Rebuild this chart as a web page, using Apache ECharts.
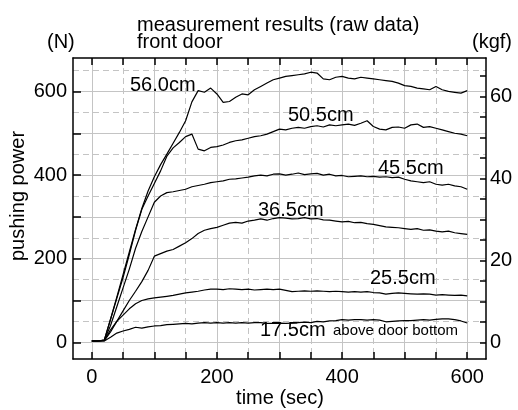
<!DOCTYPE html>
<html lang="en">
<head>
    <meta charset="UTF-8">
    <title>measurement results</title>
    <style>
        html, body { margin: 0; padding: 0; background: #fff; }
        #main { width: 518px; height: 410px; }
    </style>
</head>
<body>
<div id="main"></div>
<script src="https://cdn.jsdelivr.net/npm/echarts@6/dist/echarts.min.js"></script>
<script>
    // time (sec)
    var timeSec = [0, 10, 20, 30, 40, 50, 60, 70, 80, 90,
        100, 110, 120, 130, 140, 150, 160, 170, 180, 190,
        200, 210, 220, 230, 240, 250, 260, 270, 280, 290,
        300, 310, 320, 330, 340, 350, 360, 370, 380, 390,
        400, 410, 420, 430, 440, 450, 460, 470, 480, 490,
        500, 510, 520, 530, 540, 550, 560, 570, 580, 590, 600];

    // pushing power (N) per height above door bottom
    var force175 = [3, 3, 3, 12, 22, 27, 31, 36, 34, 37,
        39, 40, 42, 43, 44, 45, 44, 46, 47, 46,
        47, 46, 47, 46, 47, 46, 47, 47, 45, 45,
        46, 45, 46, 47, 48, 47, 50, 49, 51, 52,
        54, 53, 54, 54, 53, 54, 53, 49, 50, 51,
        52, 52, 53, 54, 53, 55, 56, 56, 54, 51, 46];
    var force255 = [3, 3, 4, 30, 50, 65, 80, 92, 100, 104,
        106, 108, 110, 112, 115, 118, 120, 122, 125, 127,
        127, 126, 128, 127, 126, 127, 125, 126, 127, 126,
        127, 124, 121, 122, 123, 122, 123, 122, 121, 122,
        121, 120, 121, 120, 121, 119, 118, 115, 117, 118,
        117, 116, 115, 116, 115, 113, 114, 113, 112, 113, 111];
    var force365 = [3, 3, 4, 25, 50, 75, 100, 122, 145, 172,
        206, 212, 218, 222, 230, 238, 248, 260, 268, 272,
        275, 280, 285, 287, 285, 290, 292, 295, 292, 296,
        298, 297, 295, 296, 298, 295, 296, 293, 292, 290,
        288, 289, 286, 287, 284, 282, 279, 276, 275, 274,
        272, 270, 272, 268, 269, 266, 264, 266, 262, 260, 258];
    var force455 = [3, 3, 5, 40, 85, 130, 175, 225, 265, 300,
        335, 350, 358, 360, 363, 366, 372, 375, 378, 382,
        384, 386, 390, 391, 393, 395, 398, 400, 398, 402,
        403, 400, 402, 405, 401, 403, 404, 400, 402, 398,
        399, 396, 397, 398, 396, 397, 395, 396, 394, 395,
        390, 386, 384, 382, 384, 378, 376, 378, 374, 372, 366];
    var force505 = [3, 3, 5, 55, 105, 155, 210, 268, 318, 350,
        380, 410, 445, 465, 478, 492, 498, 462, 458, 466,
        468, 472, 478, 482, 484, 488, 492, 494, 498, 504,
        510, 508, 512, 514, 512, 516, 518, 515, 520, 518,
        520, 522, 519, 524, 530, 516, 510, 508, 514, 515,
        512, 520, 522, 514, 516, 512, 508, 504, 500, 498, 494];
    var force560 = [3, 3, 5, 55, 108, 162, 216, 270, 320, 362,
        396, 425, 450, 476, 502, 530, 575, 602, 598, 608,
        594, 574, 576, 586, 594, 592, 604, 612, 620, 628,
        632, 636, 638, 640, 642, 646, 644, 630, 628, 634,
        636, 632, 630, 634, 632, 630, 628, 626, 624, 620,
        614, 612, 608, 606, 604, 612, 604, 600, 598, 596, 602];

    // ticks
    var xTicks = [0, 50, 100, 150, 200, 250, 300, 350, 400, 450, 500, 550, 600];
    var xLabels = [0, 200, 400, 600];
    var xSolid = [0, 100, 200, 300, 400, 500, 600];
    var xDashed = [50, 150, 250, 350, 450, 550];
    var yTicks = [0, 100, 200, 300, 400, 500, 600];
    var yLabels = [0, 200, 400, 600];
    var yDashed = [50, 150, 250, 350, 450, 550, 650];
    var kgfTicks = [0, 5, 10, 15, 20, 25, 30, 35, 40, 45, 50, 55, 60, 65];
    var kgfLabels = [0, 20, 40, 60];

    var G = 9.80665;
    var X_MIN = -30, X_MAX = 630, Y_MIN = -40, Y_MAX = 680;
    var FONT = 'Liberation Sans, Arial, sans-serif';

    function pairs(arr) {
        return timeSec.map(function (t, i) { return [t, arr[i]]; });
    }

    var myChart = echarts.init(document.getElementById('main'));

    var gridCol = '#c4c4c4';
    function hiddenX(vals, type) {
        return {
            type: 'value', min: X_MIN, max: X_MAX, position: 'bottom',
            axisLine: {show: false, onZero: false},
            axisTick: {show: false, customValues: vals},
            axisLabel: {show: false, customValues: vals},
            splitLine: {show: true, lineStyle: {color: gridCol, width: 1, type: type}}
        };
    }

    var allSeries = [force175, force255, force365, force455, force505, force560].map(function (arr) {
        return {
            type: 'line',
            xAxisIndex: 0,
            yAxisIndex: 0,
            data: pairs(arr),
            showSymbol: false,
            symbol: 'none',
            lineStyle: {color: '#000', width: 1.2},
            z: 5
        };
    });

    function txt(s, x, y, size, align, rot) {
        return {
            type: 'text', x: x, y: y, rotation: rot || 0, z: 10,
            style: {
                text: s, fill: '#000', font: size + 'px ' + FONT,
                textAlign: align || 'left', textVerticalAlign: 'middle'
            }
        };
    }

    var option = {
        animation: false,
        backgroundColor: '#fff',
        grid: {left: 73, right: 32, top: 58, bottom: 51},
        xAxis: [{
            type: 'value', min: X_MIN, max: X_MAX, position: 'bottom',
            axisLine: {show: true, onZero: false, lineStyle: {color: '#000', width: 1.5}},
            axisTick: {show: true, inside: true, length: 7, customValues: xTicks, lineStyle: {color: '#000', width: 1.5}},
            axisLabel: {show: true, customValues: xLabels, margin: 8, color: '#000', fontSize: 20, fontFamily: FONT},
            splitLine: {show: false}
        }, {
            type: 'value', min: X_MIN, max: X_MAX, position: 'top',
            axisLine: {show: true, onZero: false, lineStyle: {color: '#000', width: 1.5}},
            axisTick: {show: true, inside: true, length: 7, customValues: xTicks, lineStyle: {color: '#000', width: 1.5}},
            axisLabel: {show: false},
            splitLine: {show: false}
        }, hiddenX(xSolid, 'solid'), hiddenX(xDashed, [6, 4])],
        yAxis: [{
            type: 'value', min: Y_MIN, max: Y_MAX, position: 'left',
            axisLine: {show: true, onZero: false, lineStyle: {color: '#000', width: 1.5}},
            axisTick: {show: true, inside: true, length: 8, customValues: yTicks, lineStyle: {color: '#000', width: 1.5}},
            axisLabel: {show: true, customValues: yLabels, margin: 6, color: '#000', fontSize: 20, fontFamily: FONT},
            splitLine: {show: true, lineStyle: {color: gridCol, width: 1}}
        }, {
            type: 'value', min: Y_MIN / G, max: Y_MAX / G, position: 'right',
            axisLine: {show: true, onZero: false, lineStyle: {color: '#000', width: 1.5}},
            axisTick: {show: true, inside: true, length: 6, customValues: kgfTicks, lineStyle: {color: '#000', width: 1.5}},
            axisLabel: {show: true, customValues: kgfLabels, margin: 4, color: '#000', fontSize: 20, fontFamily: FONT},
            splitLine: {show: false}
        }, {
            type: 'value', min: Y_MIN, max: Y_MAX, position: 'left',
            axisLine: {show: false, onZero: false},
            axisTick: {show: false, customValues: yDashed},
            axisLabel: {show: false, customValues: yDashed},
            splitLine: {show: true, lineStyle: {color: gridCol, width: 1, type: [6, 4]}}
        }],
        graphic: [
            txt('measurement results (raw data)', 137, 25, 20),
            txt('front door', 137, 42, 20),
            txt('(N)', 47, 42, 20),
            txt('(kgf)', 512, 42, 20, 'right'),
            txt('time (sec)', 280, 398, 20, 'center'),
            txt('pushing power', 18, 196, 20, 'center', Math.PI / 2),
            txt('56.0cm', 130, 85, 20),
            txt('50.5cm', 288, 115, 20),
            txt('45.5cm', 378, 168, 20),
            txt('36.5cm', 258, 210, 20),
            txt('25.5cm', 370, 278, 20),
            txt('17.5cm', 260, 330, 20),
            txt('above door bottom', 333, 331, 15)
        ],
        series: allSeries
    };

    myChart.setOption(option);
</script>
</body>
</html>
